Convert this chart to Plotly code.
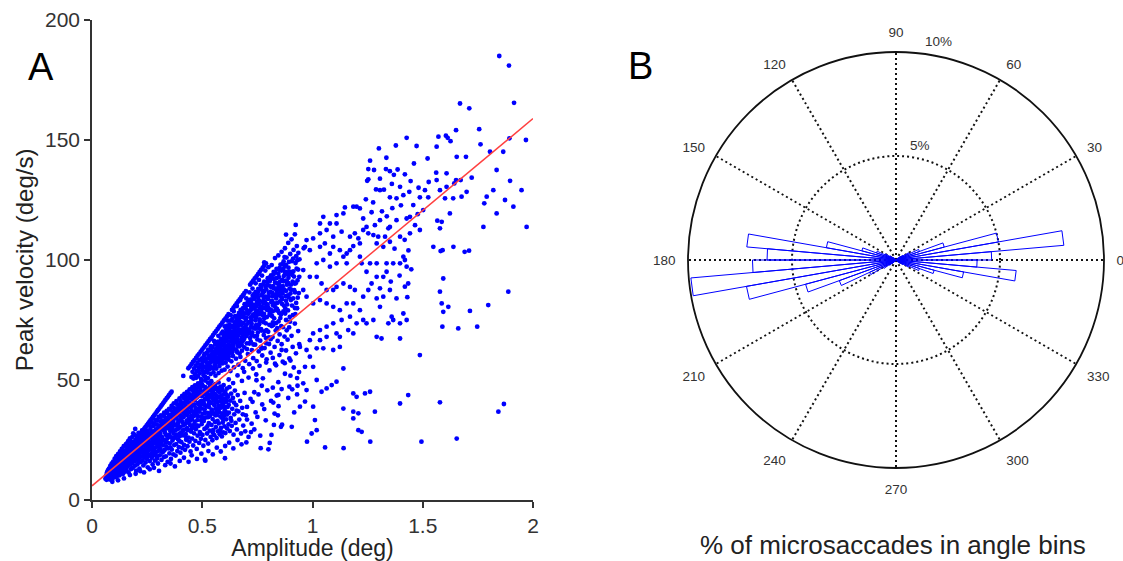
import plotly.graph_objects as go

# ---------------------------------------------------------------------------
# Panel A: microsaccade main sequence (amplitude vs. peak velocity)
# ---------------------------------------------------------------------------

# dense core of small microsaccades
LOWER_CLOUD = [
    (0.061, 8.9), (0.064, 10.2), (0.066, 8.4), (0.068, 11.5), (0.070, 9.6), (0.072, 12.3), (0.074, 8.8),
    (0.075, 10.9), (0.077, 13.1), (0.079, 9.7), (0.080, 11.8), (0.082, 8.5),
    (0.083, 14.2), (0.084, 10.4), (0.086, 12.6), (0.087, 9.2), (0.089, 15.1), (0.090, 11.3), (0.092, 13.7),
    (0.093, 8.9), (0.095, 10.8), (0.096, 16.0), (0.097, 12.2), (0.099, 14.4), (0.100, 9.6),
    (0.101, 11.9), (0.103, 17.2), (0.104, 13.3), (0.105, 10.1), (0.107, 15.5), (0.108, 12.4), (0.110, 18.3),
    (0.111, 9.4), (0.112, 14.1), (0.114, 16.7), (0.115, 11.2), (0.116, 13.8), (0.118, 19.1), (0.119, 10.6), (0.120, 15.2),
    (0.121, 12.7), (0.123, 17.6), (0.124, 14.6), (0.125, 10.3), (0.127, 20.2), (0.128, 13.1), (0.129, 16.2),
    (0.131, 11.6), (0.132, 18.4), (0.133, 15.0), (0.135, 21.3), (0.136, 12.4), (0.137, 17.0), (0.139, 14.2), (0.140, 19.6),
    (0.141, 10.9), (0.142, 16.1), (0.144, 22.4), (0.145, 13.5), (0.146, 18.8), (0.148, 15.3), (0.149, 11.8),
    (0.150, 20.7), (0.152, 17.2), (0.153, 14.0), (0.154, 23.3), (0.156, 12.6), (0.157, 19.4), (0.158, 16.5), (0.160, 21.8),
    (0.161, 13.9), (0.162, 18.0), (0.164, 24.5), (0.165, 15.6), (0.166, 11.5), (0.168, 20.9), (0.169, 17.3),
    (0.170, 22.6), (0.172, 14.8), (0.173, 19.2), (0.174, 25.4), (0.176, 16.4), (0.177, 12.9), (0.178, 21.5),
    (0.180, 18.6), (0.180, 23.9),
    (0.181, 15.2), (0.183, 26.3), (0.184, 20.1), (0.185, 13.4), (0.187, 17.8), (0.188, 24.2), (0.189, 22.0),
    (0.191, 16.1), (0.192, 19.5), (0.193, 27.1), (0.195, 14.3), (0.196, 21.3), (0.197, 25.0), (0.199, 18.2),
    (0.200, 23.1), (0.200, 12.2),
    (0.202, 16.8), (0.203, 20.4), (0.205, 26.6), (0.206, 14.9), (0.207, 22.7), (0.209, 18.9), (0.210, 24.8),
    (0.211, 28.0), (0.213, 17.4), (0.214, 21.1), (0.215, 13.1), (0.217, 25.7), (0.218, 19.6), (0.219, 23.4),
    (0.221, 15.8), (0.222, 27.2),
    (0.223, 21.9), (0.225, 18.1), (0.226, 24.3), (0.227, 29.0), (0.229, 16.5), (0.230, 20.6), (0.231, 26.1),
    (0.233, 14.4), (0.234, 22.8), (0.235, 19.3), (0.237, 27.9), (0.238, 24.9), (0.239, 17.7), (0.241, 21.4),
    (0.242, 30.1), (0.243, 15.6),
    (0.245, 23.5), (0.246, 19.8), (0.247, 26.8), (0.249, 28.9), (0.250, 17.0), (0.251, 22.2), (0.253, 13.6),
    (0.254, 25.3), (0.255, 20.7), (0.257, 31.2), (0.258, 18.4), (0.259, 24.0), (0.261, 27.5), (0.262, 16.2), (0.263, 21.8),
    (0.265, 29.6), (0.266, 23.2), (0.267, 19.1), (0.269, 26.0), (0.270, 32.3), (0.271, 17.6), (0.273, 22.5),
    (0.274, 28.4), (0.275, 14.8), (0.277, 25.1), (0.278, 20.3), (0.279, 30.8), (0.281, 18.7), (0.282, 24.6),
    (0.283, 27.3), (0.285, 16.4),
    (0.286, 21.7), (0.287, 33.4), (0.289, 29.2), (0.290, 19.9), (0.291, 23.8), (0.293, 26.7), (0.294, 31.5),
    (0.295, 17.3), (0.297, 22.4), (0.298, 28.1), (0.299, 15.2), (0.301, 25.4), (0.302, 34.6), (0.303, 20.5),
    (0.305, 30.0), (0.306, 24.2),
    (0.307, 18.6), (0.309, 27.6), (0.310, 32.7), (0.311, 21.2), (0.313, 35.3), (0.314, 23.9), (0.315, 16.7),
    (0.317, 29.4), (0.318, 26.2), (0.319, 19.8), (0.321, 33.1), (0.322, 22.8), (0.323, 30.6), (0.325, 25.0),
    (0.326, 17.9), (0.327, 36.4),
    (0.329, 28.3), (0.330, 20.9), (0.331, 31.8), (0.333, 24.5), (0.334, 34.2), (0.335, 18.2), (0.337, 27.0),
    (0.338, 22.1), (0.339, 37.1), (0.341, 29.9), (0.342, 25.7), (0.343, 15.9), (0.345, 33.6), (0.346, 21.5),
    (0.347, 30.9), (0.349, 26.4),
    (0.350, 38.0), (0.351, 19.4), (0.353, 23.6), (0.354, 35.5), (0.355, 28.8), (0.357, 32.2), (0.358, 17.1),
    (0.359, 26.1), (0.361, 39.2), (0.362, 21.0), (0.363, 30.3), (0.365, 24.8), (0.366, 36.7), (0.367, 33.4),
    (0.369, 19.0), (0.370, 27.7),
    (0.371, 40.3), (0.373, 22.9), (0.374, 31.4), (0.375, 25.9), (0.377, 37.9), (0.378, 29.0), (0.379, 18.5),
    (0.381, 34.3), (0.382, 23.3), (0.383, 41.2), (0.385, 27.2), (0.386, 31.0), (0.387, 20.4), (0.389, 36.1),
    (0.390, 25.3), (0.391, 38.6),
    (0.393, 29.7), (0.394, 22.0), (0.395, 33.0), (0.397, 42.3), (0.398, 26.6), (0.399, 35.2), (0.401, 19.7),
    (0.402, 30.5), (0.403, 39.7), (0.405, 24.1), (0.406, 28.1), (0.407, 36.9), (0.409, 43.4), (0.410, 21.6),
    (0.411, 32.4), (0.413, 26.9),
    (0.414, 40.6), (0.415, 34.5), (0.417, 23.0), (0.418, 29.3), (0.419, 44.2), (0.421, 37.6), (0.422, 20.9),
    (0.423, 31.7), (0.425, 27.4), (0.426, 41.8), (0.427, 25.1), (0.429, 35.8), (0.430, 33.1), (0.431, 45.0),
    (0.433, 22.4), (0.434, 38.9),
    (0.435, 29.1), (0.437, 42.7), (0.438, 26.0), (0.439, 34.0), (0.441, 36.5), (0.442, 24.3), (0.443, 46.1),
    (0.445, 31.2), (0.446, 40.1), (0.447, 20.2), (0.449, 28.5), (0.450, 43.6), (0.451, 37.3), (0.453, 33.8),
    (0.454, 25.6), (0.455, 47.0),
    (0.457, 30.2), (0.458, 39.4), (0.459, 22.7), (0.461, 44.8), (0.462, 35.0), (0.463, 27.8), (0.465, 41.5),
    (0.466, 32.6), (0.467, 47.8), (0.469, 24.6), (0.470, 38.3), (0.471, 29.5), (0.473, 45.9), (0.474, 36.2),
    (0.475, 21.3), (0.477, 42.9),
    (0.478, 33.3), (0.479, 26.8), (0.481, 48.6), (0.482, 39.9), (0.483, 30.8), (0.485, 44.1), (0.486, 23.8),
    (0.487, 36.8), (0.489, 28.3), (0.490, 46.7), (0.491, 41.0), (0.493, 34.7), (0.494, 25.5), (0.495, 49.2),
    (0.497, 31.6), (0.498, 38.1),
    (0.499, 43.3), (0.501, 27.1), (0.502, 35.9), (0.503, 47.4), (0.505, 22.6), (0.506, 40.7), (0.507, 32.9),
    (0.509, 45.5), (0.510, 29.6), (0.511, 37.7), (0.513, 49.8), (0.514, 25.0), (0.515, 42.0), (0.517, 34.4),
    (0.518, 46.3), (0.519, 30.1),
    (0.521, 39.0), (0.522, 27.7), (0.523, 44.7), (0.525, 36.3), (0.526, 48.9), (0.527, 23.5), (0.529, 41.6),
    (0.530, 32.0), (0.531, 38.7), (0.533, 46.9), (0.534, 28.9), (0.535, 35.1), (0.537, 43.8), (0.538, 26.3),
    (0.539, 40.4), (0.541, 49.5),
    (0.542, 31.3), (0.543, 37.0), (0.545, 45.2), (0.546, 24.9), (0.547, 33.7), (0.549, 42.4), (0.550, 29.2),
    (0.551, 47.7), (0.553, 36.0), (0.554, 39.6), (0.555, 27.0), (0.557, 44.0), (0.558, 32.5), (0.559, 48.3),
    (0.561, 38.2), (0.562, 30.4),
    (0.563, 41.9), (0.565, 25.8), (0.566, 35.4), (0.567, 46.0), (0.569, 33.0), (0.570, 43.2), (0.571, 28.6),
    (0.573, 39.3), (0.574, 49.0), (0.575, 31.9), (0.577, 36.6), (0.578, 44.9), (0.579, 27.4), (0.581, 41.1),
    (0.582, 34.8), (0.583, 47.2),
    (0.585, 30.0), (0.586, 38.5), (0.587, 43.5), (0.589, 26.5), (0.590, 36.1), (0.591, 45.8), (0.593, 32.3),
    (0.594, 40.0), (0.595, 28.2), (0.597, 47.9), (0.598, 35.0), (0.599, 42.2), (0.601, 30.7), (0.602, 37.4), (0.603, 44.6),
    (0.605, 27.9), (0.607, 40.9), (0.609, 33.6), (0.611, 46.4), (0.613, 29.8), (0.615, 38.8), (0.617, 43.0),
    (0.619, 31.5), (0.621, 36.4), (0.623, 47.0), (0.625, 28.7), (0.627, 41.4),
    (0.629, 34.2), (0.631, 44.3), (0.634, 30.9), (0.636, 38.0), (0.639, 42.5), (0.642, 27.2), (0.645, 35.7),
    (0.648, 45.6), (0.651, 32.1), (0.654, 39.5), (0.657, 29.4), (0.661, 43.7), (0.664, 36.9), (0.668, 33.5),
    (0.672, 41.3), (0.676, 27.7), (0.681, 38.4), (0.686, 31.0), (0.692, 44.6), (0.698, 35.3),
]

# the most crowded strip of the small-amplitude cloud, around the fit
LOWER_CORE = [
    (0.105, 12.9), (0.113, 14.8), (0.122, 15.9), (0.130, 14.4), (0.138, 17.9), (0.147, 16.8), (0.155, 18.9),
    (0.163, 17.5), (0.171, 20.4), (0.179, 19.6), (0.186, 21.6), (0.194, 20.7), (0.201, 22.4), (0.208, 21.0),
    (0.216, 23.8), (0.224, 22.9), (0.232, 25.0), (0.240, 23.6), (0.248, 26.2), (0.256, 24.7), (0.264, 27.4),
    (0.272, 25.9), (0.280, 28.6), (0.288, 27.0), (0.296, 29.8), (0.304, 28.2), (0.312, 30.9), (0.320, 29.3),
    (0.328, 32.4), (0.336, 30.4), (0.344, 33.7), (0.352, 31.5), (0.360, 34.6), (0.368, 32.7), (0.376, 35.8),
    (0.384, 33.9), (0.392, 37.0), (0.400, 35.1), (0.408, 38.3), (0.416, 36.2), (0.424, 39.5), (0.432, 37.4),
    (0.440, 40.6), (0.448, 38.5), (0.456, 41.8), (0.464, 39.7), (0.472, 42.6), (0.480, 40.4), (0.488, 43.5),
    (0.496, 41.3), (0.504, 44.2), (0.512, 42.0), (0.520, 45.0), (0.528, 42.9), (0.536, 45.7), (0.544, 43.2),
    (0.552, 46.3), (0.560, 44.0), (0.568, 40.6), (0.576, 42.8), (0.584, 39.1), (0.592, 41.5), (0.600, 38.9),
    (0.110, 11.0), (0.126, 12.2), (0.143, 13.8), (0.159, 14.2), (0.175, 15.7), (0.191, 17.4), (0.207, 17.0),
    (0.223, 19.9), (0.239, 19.0), (0.255, 21.7), (0.271, 20.8), (0.287, 23.5), (0.303, 22.1), (0.319, 25.2),
    (0.335, 23.9), (0.351, 27.1), (0.367, 25.8), (0.383, 29.4), (0.399, 27.8), (0.415, 31.2), (0.431, 29.9),
    (0.447, 33.1), (0.463, 31.4), (0.479, 35.0), (0.495, 33.2), (0.511, 36.2), (0.527, 34.5), (0.543, 37.6),
    (0.559, 35.3), (0.575, 38.0), (0.591, 34.1), (0.607, 36.6),
    (0.079, 12.0), (0.091, 10.0), (0.098, 13.0), (0.106, 15.0), (0.117, 12.6), (0.126, 18.9), (0.134, 13.2),
    (0.143, 17.7), (0.151, 15.9), (0.159, 19.9), (0.167, 14.5), (0.175, 21.2), (0.182, 17.0), (0.190, 22.7),
    (0.198, 19.0), (0.204, 24.1), (0.212, 16.2), (0.220, 21.8), (0.228, 25.3), (0.236, 20.0), (0.244, 27.0),
    (0.252, 18.7), (0.260, 23.4), (0.268, 28.1), (0.276, 21.0), (0.284, 25.8), (0.292, 18.3), (0.300, 27.3),
    (0.308, 23.1), (0.316, 31.6), (0.324, 20.2), (0.332, 27.9), (0.340, 24.0), (0.348, 32.0), (0.356, 21.9),
    (0.364, 29.1), (0.372, 34.7), (0.380, 26.5), (0.388, 31.9), (0.396, 24.6), (0.404, 33.6), (0.412, 28.9),
    (0.420, 38.3), (0.428, 25.9), (0.436, 32.2), (0.444, 42.3), (0.452, 29.7), (0.460, 36.6), (0.468, 43.4),
    (0.476, 31.1), (0.484, 38.0), (0.492, 27.6), (0.500, 40.1), (0.508, 34.1), (0.516, 45.0), (0.524, 30.8),
    (0.532, 42.9), (0.540, 35.9), (0.548, 28.0), (0.556, 41.3), (0.564, 37.1), (0.572, 45.4), (0.580, 29.0),
    (0.588, 41.8), (0.596, 33.4), (0.604, 45.1), (0.612, 35.6), (0.620, 39.6), (0.632, 33.0), (0.644, 40.6),
    (0.656, 37.2),
    (0.087, 11.0), (0.094, 12.4), (0.102, 14.2), (0.109, 13.6), (0.116, 15.9), (0.124, 16.6), (0.131, 17.6),
    (0.139, 15.8), (0.146, 19.9), (0.154, 18.0), (0.161, 20.6), (0.169, 19.0), (0.176, 22.5), (0.184, 18.9),
    (0.191, 23.5), (0.199, 21.5), (0.206, 25.6), (0.214, 22.6), (0.221, 25.0), (0.229, 23.0), (0.236, 26.3),
    (0.244, 24.8), (0.251, 28.3), (0.259, 26.2), (0.266, 30.6), (0.274, 26.9), (0.281, 31.9), (0.289, 28.4),
    (0.296, 33.2), (0.304, 30.9), (0.311, 34.4), (0.319, 31.4), (0.326, 35.1), (0.334, 32.9), (0.341, 36.2),
    (0.349, 34.8), (0.356, 37.6), (0.364, 35.6), (0.371, 38.4), (0.379, 36.8), (0.386, 39.9), (0.394, 38.0),
    (0.401, 41.2), (0.409, 40.1), (0.416, 42.5), (0.424, 43.5), (0.431, 41.0), (0.439, 44.4), (0.446, 43.1),
    (0.454, 45.9), (0.461, 42.4), (0.469, 46.4), (0.476, 44.9), (0.484, 47.3), (0.491, 45.6), (0.499, 48.2),
    (0.506, 43.9), (0.514, 47.0), (0.521, 43.5), (0.529, 46.1), (0.536, 48.0), (0.544, 46.7), (0.551, 44.6),
    (0.559, 47.1), (0.566, 42.7), (0.574, 46.6), (0.581, 43.0), (0.589, 46.8), (0.596, 44.0), (0.604, 41.7),
    (0.611, 43.8),
    (0.250, 20.0), (0.270, 24.0), (0.290, 25.2), (0.310, 26.8), (0.330, 29.5), (0.350, 30.0), (0.370, 31.1),
    (0.390, 32.0), (0.410, 34.6), (0.430, 35.4), (0.450, 35.1), (0.470, 37.4), (0.490, 39.4), (0.510, 39.6),
    (0.530, 40.3), (0.550, 41.7), (0.570, 37.3), (0.590, 39.6), (0.610, 41.3),
]

# fringe of the small-amplitude cloud (below the core and trailing off to the right)
LOWER_FRINGE = [
    (0.092, 7.6), (0.118, 8.2), (0.145, 9.0), (0.172, 10.4), (0.198, 10.9), (0.219, 12.0), (0.236, 11.5),
    (0.262, 12.8), (0.281, 13.4), (0.304, 12.1), (0.332, 14.5), (0.356, 15.2), (0.376, 14.0), (0.398, 16.3),
    (0.417, 17.6), (0.438, 15.9), (0.452, 18.6), (0.476, 17.1), (0.496, 19.3), (0.512, 16.8), (0.528, 20.4),
    (0.548, 19.0), (0.566, 21.8), (0.584, 20.2), (0.604, 22.5), (0.622, 23.9), (0.641, 21.5), (0.660, 25.0),
    (0.678, 23.2), (0.695, 28.6), (0.710, 26.3), (0.724, 31.8), (0.736, 29.4), (0.750, 34.6), (0.763, 26.8),
    (0.703, 38.8), (0.719, 42.1), (0.742, 36.5), (0.755, 44.0), (0.772, 39.8), (0.788, 33.2), (0.795, 45.7),
    (0.812, 41.3), (0.828, 36.0), (0.845, 43.8), (0.862, 31.4),
    (0.939, 53.3), (0.932, 47.6), (0.908, 46.1), (0.895, 47.2), (0.917, 36.5), (0.906, 30.5), (0.900, 51.8),
    (0.830, 56.8), (0.874, 57.0), (0.838, 43.5), (0.822, 40.6), (0.846, 39.1), (0.825, 31.3), (0.857, 30.5),
    (0.843, 35.3), (0.814, 27.1), (0.800, 21.1), (0.765, 21.6), (0.781, 37.9), (0.770, 47.6), (0.746, 49.9),
    (0.736, 44.9), (0.728, 40.9), (0.721, 28.3), (0.703, 33.5), (0.684, 35.7), (0.700, 24.0), (0.603, 17.4),
    (0.514, 16.4), (0.806, 23.8),
    (0.152, 19.5), (0.165, 21.0), (0.178, 22.6), (0.190, 24.0), (0.187, 27.8), (0.196, 29.6), (0.172, 25.7),
    (0.160, 23.6),
]

# saturated detections that line up along a straight ridge
STREAK_LOW = [
    (0.203, 25.6), (0.209, 26.3), (0.214, 26.9), (0.220, 27.6), (0.226, 28.3), (0.231, 29.0), (0.237, 29.7),
    (0.243, 30.4), (0.248, 31.1), (0.254, 31.8), (0.260, 32.5), (0.265, 33.2), (0.271, 33.9), (0.277, 34.6),
    (0.282, 35.3), (0.288, 36.0), (0.294, 36.8), (0.299, 37.4), (0.305, 38.1), (0.311, 38.9), (0.316, 39.5),
    (0.322, 40.3), (0.328, 41.0), (0.333, 41.7), (0.339, 42.4), (0.345, 43.1), (0.350, 43.8), (0.356, 44.5),
    (0.361, 45.1),
]
STREAK_HIGH = [
    (0.414, 51.7),
    (0.437, 54.9), (0.444, 55.7), (0.451, 56.6), (0.458, 57.5), (0.465, 58.3), (0.472, 59.2), (0.479, 60.1),
    (0.486, 60.9), (0.493, 61.8), (0.500, 62.6), (0.507, 63.5), (0.514, 64.4), (0.521, 65.2), (0.528, 66.1),
    (0.535, 67.0), (0.542, 67.8), (0.549, 68.7), (0.556, 69.6), (0.563, 70.4), (0.570, 71.3), (0.577, 72.2),
    (0.584, 73.0), (0.591, 73.9), (0.598, 74.8), (0.605, 75.6), (0.612, 76.5), (0.619, 77.4),
    (0.635, 79.2), (0.642, 80.1), (0.649, 81.0), (0.656, 81.9), (0.663, 82.7), (0.670, 83.6), (0.677, 84.5),
    (0.684, 85.3), (0.691, 86.2), (0.698, 87.0),
    (0.717, 89.7), (0.724, 90.6), (0.731, 91.4), (0.738, 92.3), (0.746, 93.2), (0.753, 94.1), (0.760, 95.0),
    (0.767, 95.9), (0.774, 96.8), (0.781, 97.6), (0.789, 98.6),
]

# second cluster of larger microsaccades
UPPER_CLOUD = [
    (0.451, 51.2), (0.456, 53.4), (0.460, 50.6), (0.463, 54.8), (0.467, 52.3), (0.470, 55.9), (0.472, 50.9),
    (0.475, 53.7), (0.478, 57.1), (0.481, 51.5), (0.484, 55.2), (0.487, 58.3), (0.489, 52.8), (0.492, 56.4),
    (0.495, 50.4), (0.498, 59.0),
    (0.501, 54.1), (0.503, 57.6), (0.506, 52.0), (0.508, 60.2), (0.511, 55.5), (0.513, 51.3), (0.516, 58.7),
    (0.518, 53.6), (0.521, 61.4), (0.523, 56.8), (0.526, 50.8), (0.528, 59.5),
    (0.531, 54.4), (0.533, 62.3), (0.536, 57.3), (0.538, 52.5), (0.541, 60.6), (0.543, 55.0), (0.546, 63.5),
    (0.548, 58.1), (0.551, 53.2), (0.553, 61.8), (0.556, 56.2), (0.558, 64.7), (0.560, 51.8),
    (0.562, 59.4), (0.564, 54.7), (0.567, 62.9), (0.569, 57.5), (0.571, 66.0), (0.574, 52.9), (0.576, 60.8),
    (0.578, 55.8), (0.581, 64.1), (0.583, 58.6), (0.585, 67.2), (0.588, 53.9), (0.590, 61.7),
    (0.592, 56.9), (0.594, 65.3), (0.597, 59.9), (0.599, 68.3), (0.601, 54.3), (0.603, 62.6), (0.606, 57.2),
    (0.608, 66.8), (0.610, 60.4), (0.612, 69.7), (0.615, 55.6), (0.617, 63.9), (0.619, 58.5),
    (0.621, 71.0), (0.623, 61.2), (0.626, 66.1), (0.628, 53.7), (0.630, 69.0), (0.632, 57.8), (0.635, 64.5),
    (0.637, 72.4), (0.639, 60.0), (0.641, 67.4), (0.644, 55.3), (0.646, 74.0), (0.648, 62.8),
    (0.650, 70.3), (0.653, 58.9), (0.655, 65.8), (0.657, 75.6), (0.659, 61.5), (0.662, 68.5), (0.664, 56.4),
    (0.666, 72.9), (0.668, 64.0), (0.671, 77.1), (0.673, 59.6), (0.675, 70.9), (0.677, 66.7), (0.680, 62.2),
    (0.682, 78.5), (0.684, 54.9), (0.686, 73.8), (0.689, 68.9), (0.691, 63.6), (0.693, 80.2), (0.695, 58.0),
    (0.698, 75.1), (0.700, 71.4), (0.702, 65.3), (0.704, 82.0), (0.707, 60.8), (0.709, 77.6),
    (0.711, 69.3), (0.713, 56.6), (0.716, 74.2), (0.718, 83.5), (0.720, 66.0), (0.722, 79.4), (0.725, 62.4),
    (0.727, 71.8), (0.729, 85.1), (0.731, 59.1), (0.734, 76.5), (0.736, 68.2), (0.738, 81.3),
    (0.740, 64.7), (0.743, 86.7), (0.745, 73.0), (0.747, 57.9), (0.749, 78.8), (0.752, 69.8), (0.754, 88.0),
    (0.756, 61.9), (0.758, 83.0), (0.761, 75.3), (0.763, 66.4), (0.765, 89.5), (0.767, 71.2),
    (0.770, 80.6), (0.772, 60.2), (0.774, 86.1), (0.776, 76.9), (0.779, 68.7), (0.781, 91.0), (0.783, 63.3),
    (0.785, 82.4), (0.788, 73.6), (0.790, 87.8), (0.792, 58.6), (0.794, 79.2), (0.797, 92.4),
    (0.799, 70.1), (0.801, 84.7), (0.803, 65.0), (0.806, 89.3), (0.808, 77.8), (0.810, 61.4), (0.812, 93.6),
    (0.815, 72.5), (0.817, 86.4), (0.819, 67.9), (0.821, 81.1), (0.824, 95.0), (0.826, 75.7),
    (0.828, 63.8), (0.830, 90.6), (0.833, 70.6), (0.835, 84.0), (0.837, 96.3), (0.839, 79.6), (0.842, 66.3),
    (0.844, 88.4), (0.846, 74.4), (0.848, 92.9), (0.851, 69.0), (0.853, 82.7), (0.855, 98.1),
    (0.857, 77.3), (0.860, 64.9), (0.862, 91.7), (0.864, 86.0), (0.866, 72.0), (0.869, 99.4), (0.871, 80.9),
    (0.873, 68.1), (0.875, 94.6), (0.878, 84.9), (0.880, 75.0), (0.882, 101.0), (0.884, 89.7),
    (0.887, 66.8), (0.889, 79.0), (0.891, 96.8), (0.894, 71.9), (0.896, 88.1), (0.899, 102.5), (0.902, 83.3),
    (0.905, 68.4), (0.908, 93.8), (0.911, 77.0), (0.914, 104.2), (0.917, 87.4), (0.920, 73.5), (0.923, 98.7),
    (0.926, 82.1), (0.929, 105.8), (0.932, 91.5), (0.935, 70.4), (0.938, 86.2), (0.941, 100.3),
    (0.552, 58.8), (0.566, 61.1), (0.579, 63.0), (0.588, 58.2), (0.596, 64.4), (0.604, 60.7), (0.611, 66.2),
    (0.618, 62.5), (0.625, 68.0), (0.633, 63.4), (0.640, 70.1), (0.647, 66.0), (0.654, 72.6), (0.661, 64.2),
    (0.669, 74.4), (0.676, 69.6), (0.683, 76.3), (0.690, 67.1), (0.697, 72.7), (0.705, 78.9), (0.712, 70.6),
    (0.719, 76.0), (0.726, 68.8), (0.733, 80.5), (0.741, 74.9), (0.748, 82.6), (0.755, 71.7), (0.762, 79.7),
    (0.769, 85.3), (0.777, 74.1), (0.784, 80.0), (0.791, 70.8), (0.798, 83.8), (0.805, 77.1), (0.813, 88.6),
    (0.820, 74.0), (0.827, 85.6), (0.834, 79.1), (0.841, 90.2), (0.849, 77.9), (0.856, 86.9), (0.863, 81.6),
    (0.870, 93.3), (0.877, 79.8), (0.885, 90.9), (0.892, 84.4),
    (0.575, 65.6), (0.587, 69.4), (0.602, 72.3), (0.616, 74.7), (0.629, 77.0), (0.643, 78.6), (0.657, 80.8),
    (0.672, 83.3), (0.686, 85.2), (0.700, 84.0), (0.714, 86.5), (0.728, 88.1), (0.742, 90.3), (0.757, 91.7),
    (0.771, 93.5), (0.786, 95.6), (0.800, 97.0), (0.815, 97.9), (0.830, 100.8), (0.845, 101.9), (0.860, 103.4),
    (0.875, 104.9), (0.890, 107.1), (0.905, 108.6), (0.920, 110.7), (0.880, 110.6), (0.924, 114.6),
    (0.781, 99.0), (0.873, 101.2),
    (0.620, 50.2), (0.640, 48.7), (0.660, 51.9), (0.680, 49.6), (0.690, 53.4), (0.710, 51.0), (0.730, 54.8),
    (0.745, 52.3), (0.760, 55.9), (0.775, 50.7), (0.790, 57.3), (0.805, 54.0), (0.820, 59.2), (0.835, 56.1),
    (0.850, 60.4), (0.865, 57.6), (0.880, 62.3), (0.895, 59.0), (0.910, 63.8), (0.925, 61.1), (0.940, 64.9),
    (0.770, 63.1), (0.790, 65.3), (0.810, 67.0), (0.860, 62.5), (0.900, 58.1), (0.915, 55.2), (0.930, 50.8),
    (0.875, 52.6), (0.845, 49.1), (0.820, 46.8), (0.860, 46.2), (0.890, 42.5), (0.930, 44.0),
]

# the most crowded part of the larger-amplitude cluster
UPPER_CORE = [
    (0.500, 56.5), (0.515, 57.9), (0.530, 60.1), (0.545, 59.6), (0.560, 62.0), (0.572, 63.7), (0.585, 62.2),
    (0.598, 66.5), (0.609, 64.1), (0.622, 68.9), (0.634, 66.9), (0.645, 71.5), (0.656, 69.4), (0.667, 73.6),
    (0.679, 71.0), (0.690, 76.0), (0.701, 73.2), (0.712, 78.3), (0.723, 75.0), (0.735, 79.8), (0.746, 76.7),
    (0.757, 81.6), (0.768, 78.4), (0.780, 84.1), (0.791, 80.9), (0.802, 86.3), (0.813, 82.4), (0.825, 88.2),
    (0.836, 85.1), (0.847, 90.0), (0.858, 88.0), (0.869, 91.1), (0.880, 87.1), (0.891, 92.6), (0.902, 89.7),
    (0.913, 95.2), (0.924, 90.3), (0.935, 96.0),
    (0.560, 55.9), (0.580, 59.7), (0.600, 61.3), (0.620, 64.7), (0.640, 63.9), (0.660, 67.1), (0.680, 67.9),
    (0.700, 68.3), (0.720, 72.0), (0.740, 71.4), (0.760, 74.6), (0.780, 77.5), (0.800, 79.0), (0.820, 78.6),
    (0.840, 82.1), (0.860, 84.3), (0.880, 83.0), (0.900, 86.0), (0.920, 80.0), (0.940, 93.0),
    (0.507, 58.4), (0.519, 55.0), (0.527, 62.6), (0.534, 58.9), (0.539, 64.1), (0.547, 61.2), (0.553, 66.3),
    (0.561, 57.4), (0.568, 64.9), (0.573, 68.4), (0.582, 61.9), (0.589, 66.7), (0.593, 70.1), (0.600, 63.2),
    (0.607, 69.4), (0.613, 72.6), (0.620, 59.8), (0.627, 71.9), (0.631, 74.8), (0.638, 65.7), (0.645, 68.3),
    (0.649, 76.6), (0.655, 62.4), (0.663, 71.2), (0.667, 78.0), (0.674, 74.1), (0.679, 64.6), (0.685, 79.9),
    (0.692, 70.2), (0.697, 77.8), (0.703, 62.9), (0.706, 81.3), (0.711, 73.9), (0.717, 67.5), (0.721, 80.7),
    (0.728, 76.9), (0.732, 64.8), (0.737, 83.9), (0.742, 78.1), (0.748, 68.4), (0.751, 85.6), (0.758, 73.2),
    (0.763, 80.1), (0.766, 63.7), (0.773, 87.2), (0.778, 82.0), (0.782, 70.3), (0.787, 88.9), (0.793, 76.2),
    (0.796, 84.6), (0.803, 67.8), (0.807, 91.3), (0.811, 79.3), (0.816, 83.0), (0.822, 72.9), (0.825, 92.1),
    (0.831, 80.4), (0.836, 87.6), (0.840, 71.6), (0.845, 94.3), (0.850, 85.2), (0.854, 75.8), (0.859, 95.6),
    (0.865, 89.1), (0.868, 78.6), (0.874, 97.3), (0.879, 91.4), (0.883, 70.7), (0.888, 85.3), (0.893, 99.2),
    (0.897, 76.3), (0.903, 94.9), (0.907, 81.0), (0.912, 100.6), (0.918, 90.2), (0.922, 77.4), (0.928, 96.4),
    (0.933, 84.3), (0.936, 103.0),
    (0.470, 52.1), (0.483, 53.9), (0.496, 55.2), (0.509, 53.2), (0.522, 57.2), (0.537, 55.6), (0.549, 54.8),
    (0.565, 58.0), (0.577, 57.1), (0.592, 60.2), (0.606, 58.9), (0.624, 63.5), (0.636, 61.6), (0.652, 66.8),
    (0.670, 65.4), (0.688, 71.6), (0.706, 69.9), (0.724, 73.4), (0.744, 76.0), (0.762, 77.4), (0.776, 80.0),
    (0.796, 81.5), (0.818, 84.9), (0.838, 87.3), (0.852, 88.9), (0.872, 87.6), (0.889, 93.9), (0.910, 91.0),
    (0.931, 99.9),
    (0.512, 60.9), (0.524, 53.1), (0.532, 56.0), (0.540, 62.4), (0.544, 57.7), (0.555, 60.3), (0.559, 65.6),
    (0.563, 63.0), (0.570, 59.2), (0.577, 61.4), (0.584, 65.0), (0.591, 58.4), (0.595, 62.8), (0.605, 65.9),
    (0.609, 71.0), (0.614, 61.6), (0.619, 67.7), (0.624, 73.2), (0.629, 62.4), (0.633, 68.6), (0.637, 75.5),
    (0.642, 64.8), (0.647, 69.9), (0.652, 73.5), (0.656, 66.2), (0.661, 76.8), (0.665, 70.4), (0.669, 61.0),
    (0.674, 79.2), (0.678, 73.0), (0.683, 66.1), (0.687, 77.4), (0.692, 81.6), (0.696, 69.3), (0.700, 76.0),
    (0.705, 71.0), (0.709, 83.3), (0.714, 65.2), (0.718, 78.9), (0.723, 82.0), (0.727, 69.8), (0.732, 77.3),
    (0.736, 86.0), (0.741, 72.2), (0.745, 80.6), (0.750, 66.9), (0.754, 84.2), (0.759, 77.8), (0.763, 88.0),
    (0.768, 70.6), (0.772, 82.8), (0.777, 89.9), (0.781, 75.6), (0.786, 84.7), (0.790, 67.4), (0.795, 89.6),
    (0.799, 80.3), (0.804, 73.0), (0.808, 86.7), (0.813, 92.5), (0.817, 76.6), (0.822, 89.1), (0.826, 81.9),
    (0.831, 94.8), (0.835, 73.7), (0.840, 86.1), (0.844, 78.8), (0.849, 95.9), (0.853, 91.0), (0.858, 72.4),
    (0.862, 83.6), (0.867, 96.2), (0.871, 87.5), (0.876, 77.7), (0.880, 98.0), (0.885, 81.5), (0.889, 90.5),
    (0.894, 95.1), (0.898, 74.3), (0.903, 87.6), (0.907, 99.5), (0.912, 84.0), (0.916, 93.1), (0.921, 86.5),
    (0.926, 101.6), (0.930, 79.9),
    (0.525, 55.8), (0.543, 59.0), (0.557, 61.5), (0.571, 63.3), (0.586, 64.7), (0.600, 67.0), (0.614, 68.4),
    (0.628, 70.3), (0.642, 72.4), (0.655, 74.6), (0.669, 75.9), (0.683, 78.0), (0.697, 79.8), (0.711, 81.7),
    (0.725, 83.5), (0.739, 85.0), (0.753, 86.7), (0.767, 88.4), (0.781, 86.9), (0.795, 90.9), (0.809, 92.9),
    (0.823, 93.9), (0.837, 92.4), (0.851, 96.7), (0.865, 98.4), (0.879, 95.0),
]

# sparse large-amplitude events
WIDE_SPREAD = [
    (1.427, 150.9), (1.472, 147.5), (1.301, 146.5), (1.378, 147.7), (1.563, 147.2), (1.522, 142.3),
    (1.261, 141.4), (1.253, 137.9), (1.279, 137.5), (1.333, 137.9), (1.351, 137.0), (1.386, 137.7),
    (1.369, 135.5), (1.419, 135.7), (1.397, 130.5), (1.445, 132.9), (1.481, 130.1), (1.527, 132.5),
    (1.561, 136.4), (1.563, 133.3), (1.608, 136.1), (1.510, 129.1), (1.487, 126.1), (1.525, 126.1),
    (1.457, 122.9), (1.439, 128.4), (1.412, 127.0), (1.381, 125.7), (1.351, 126.1), (1.324, 129.3),
    (1.306, 129.1), (1.288, 129.4), (1.253, 133.6), (1.248, 133.0), (1.306, 133.9), (1.638, 125.7),
    (1.601, 125.7), (1.623, 119.4), (1.676, 126.4), (1.502, 120.8), (1.477, 119.1), (1.442, 118.0),
    (1.427, 117.3), (1.465, 114.5), (1.487, 112.5), (1.586, 115.9), (1.566, 116.4), (1.578, 113.2),
    (1.548, 105.5), (1.581, 103.7), (1.442, 111.1), (1.381, 116.6), (1.351, 113.8), (1.397, 109.7),
    (1.344, 113.2), (1.306, 116.6), (1.283, 114.5), (1.245, 113.8), (1.230, 117.3), (1.200, 122.2),
    (1.215, 121.5), (1.185, 122.2), (1.147, 121.9), (1.140, 119.4), (1.109, 118.7), (1.109, 115.2),
    (1.079, 115.2), (1.064, 112.5), (1.049, 118.0), (1.034, 115.2), (1.034, 111.1), (1.094, 109.7),
    (1.132, 111.8), (1.170, 109.7), (1.192, 111.1), (1.208, 109.0), (1.230, 112.5), (1.253, 111.1),
    (1.291, 106.9), (1.321, 105.5), (1.351, 107.6), (1.329, 109.7), (1.298, 109.7), (1.276, 110.4),
    (1.215, 106.9), (1.185, 105.8), (1.170, 104.1), (1.155, 102.7), (1.124, 104.1), (1.094, 105.5),
    (1.079, 102.7), (1.056, 106.9), (1.034, 105.5), (1.003, 109.0), (0.973, 108.3), (0.966, 105.5),
    (0.988, 104.1), (1.019, 98.6), (1.049, 100.0), (1.079, 97.2), (1.109, 98.6), (1.140, 101.4),
    (1.155, 98.6), (1.215, 101.4), (1.223, 98.6), (1.245, 95.1), (1.261, 98.6), (1.291, 98.6),
    (1.336, 98.6), (1.366, 98.6), (1.397, 98.6), (1.419, 100.0), (1.427, 97.2), (1.412, 101.4),
    (1.336, 95.1), (1.321, 93.0), (1.291, 93.0), (1.268, 90.2), (1.253, 87.5), (1.230, 84.7),
    (1.192, 87.5), (1.170, 88.8), (1.140, 90.2), (1.109, 88.8), (1.094, 87.5), (1.064, 87.5),
    (1.041, 90.2), (1.019, 93.0), (0.988, 93.0), (0.958, 95.8), (0.958, 87.5), (0.973, 84.7),
    (1.003, 81.9), (1.034, 83.3), (1.064, 81.9), (1.094, 80.5), (1.124, 79.1), (1.155, 81.9),
    (1.185, 81.9), (1.215, 79.1), (1.170, 76.4), (1.132, 75.0), (1.094, 73.6), (1.064, 72.2),
    (1.034, 70.8), (1.003, 69.4), (0.988, 66.6), (1.034, 66.6), (1.064, 68.0), (1.109, 69.4),
    (1.124, 68.0), (1.162, 70.8), (1.200, 73.6), (1.230, 75.0), (1.276, 75.0), (1.306, 80.5),
    (1.321, 84.7), (1.351, 87.5), (1.381, 84.0), (1.412, 77.7), (1.427, 75.0), (1.397, 73.6),
    (1.366, 75.0), (1.344, 73.6), (1.291, 68.0), (1.313, 67.3), (1.397, 67.3), (1.306, 88.2),
    (1.419, 88.9), (1.434, 90.2), (1.291, 84.0), (1.359, 76.4), (1.245, 73.6), (1.185, 69.4),
    (1.124, 63.8), (1.094, 62.5), (1.049, 63.2), (1.019, 63.2), (0.973, 62.5), (0.943, 63.8),
    (0.988, 59.7), (0.966, 55.5), (1.003, 55.5), (0.958, 48.6), (1.019, 50.0), (0.973, 45.8),
    (0.943, 38.9), (0.966, 41.0), (1.003, 38.9), (1.011, 33.3), (1.019, 29.1), (0.996, 27.7),
    (1.041, 45.1), (1.064, 46.5), (1.087, 47.9), (1.109, 49.3), (1.140, 54.8), (1.185, 44.4),
    (1.200, 43.0), (1.238, 44.4), (1.261, 45.1), (1.434, 43.7), (1.397, 40.2), (1.185, 36.8),
    (1.208, 36.1), (1.140, 38.1), (1.185, 34.0), (1.208, 29.1), (1.223, 28.4), (1.283, 36.8),
    (1.578, 40.7), (1.487, 60.4), (1.593, 78.4), (1.616, 80.5), (1.589, 72.2), (1.661, 71.5),
    (1.747, 72.2), (1.714, 78.8), (1.797, 81.2), (1.888, 86.8), (1.868, 40.0), (1.843, 36.8),
    (1.654, 25.6), (1.593, 92.3), (1.578, 86.8), (1.586, 81.9),
    (1.669, 165.2), (1.711, 163.2), (1.914, 165.5), (1.571, 151.4), (1.605, 151.8), (1.613, 150.9),
    (1.626, 149.5), (1.651, 154.1), (1.756, 154.5), (1.762, 148.2), (1.893, 150.7), (1.968, 150.0),
    (1.696, 143.0), (1.654, 143.0), (1.722, 134.3), (1.672, 133.3), (1.651, 133.3), (1.643, 131.9),
    (1.608, 130.5), (1.578, 129.1), (1.805, 145.1), (1.865, 145.1), (1.835, 137.5), (1.896, 133.0),
    (1.948, 129.1), (1.911, 122.2), (1.873, 125.0), (1.820, 129.1), (1.790, 126.4), (1.779, 123.6),
    (1.835, 119.4), (1.775, 113.8), (1.971, 113.8), (1.699, 128.4), (1.639, 105.5), (1.690, 103.4),
    (1.710, 103.9), (1.590, 104.1),
    (1.847, 185.0), (1.891, 181.0), (0.975, 24.3), (1.057, 21.9), (1.141, 21.6), (1.262, 24.3), (1.494, 24.3),
    (1.315, 120.3), (1.337, 118.2), (1.362, 121.6), (1.401, 122.8), (1.418, 108.4), (1.435, 104.0),
    (1.372, 104.7), (1.395, 93.5), (1.355, 91.0), (1.430, 84.5), (1.448, 96.1), (1.268, 119.9),
    (1.242, 125.3), (1.275, 124.0), (1.360, 131.7), (1.460, 140.2), (1.335, 142.6), (0.960, 104.9),
]

# linear main-sequence fit
FIT_AMP = [0.0, 2.0]
FIT_VEL = [5.9, 158.9]

X_TICKS = [0, 0.5, 1, 1.5, 2]
X_TICK_TEXT = ["0", "0.5", "1", "1.5", "2"]
Y_TICKS = [0, 50, 100, 150, 200]

# ---------------------------------------------------------------------------
# Panel B: rose histogram of microsaccade directions (5 degree bins)
# ---------------------------------------------------------------------------
BIN_START_DEG = list(range(0, 360, 5))
BIN_PERCENT = [
    4.6, 8.1, 5.0, 2.4, 1.2, 0.7, 0.4, 0.25, 0.15, 0.1, 0.05, 0.05,      # 0-55
    0.03, 0.03, 0.02, 0.02, 0.02, 0.02, 0.02, 0.02, 0.02, 0.02, 0.02, 0.03,  # 60-115
    0.03, 0.05, 0.1, 0.15, 0.2, 0.35, 0.6, 1.0, 1.7, 3.4, 7.2, 6.2,      # 120-175
    6.9, 9.9, 7.3, 4.5, 2.9, 1.4, 0.7, 0.4, 0.25, 0.15, 0.1, 0.05,       # 180-235
    0.03, 0.03, 0.02, 0.02, 0.02, 0.02, 0.02, 0.02, 0.02, 0.02, 0.03, 0.03,  # 240-295
    0.05, 0.05, 0.1, 0.15, 0.25, 0.4, 0.7, 1.2, 1.9, 3.3, 5.8, 3.9,      # 300-355
]
BIN_WIDTH_DEG = 5
ANGLE_TICKS = list(range(0, 360, 30))
RADIAL_RINGS = [5, 10]
RADIAL_LABELS = ["5%", "10%"]

FONT = "Liberation Sans, Arial, Helvetica, sans-serif"
W, H = 1123, 561


def px(xp):
    return xp / W


def py(yp):
    return 1 - yp / H


points = (LOWER_CLOUD + LOWER_CORE + LOWER_FRINGE + STREAK_LOW + STREAK_HIGH
          + UPPER_CLOUD + UPPER_CORE + WIDE_SPREAD)
amp = [p[0] for p in points]
vel = [p[1] for p in points]

fig = go.Figure()

fig.add_trace(go.Scatter(
    x=amp, y=vel, mode="markers",
    marker=dict(color="#0000ff", size=4.8, line=dict(width=0)),
    xaxis="x", yaxis="y", showlegend=False, hoverinfo="skip",
))
fig.add_trace(go.Scatter(
    x=FIT_AMP, y=FIT_VEL, mode="lines",
    line=dict(color="#ff4040", width=1.5),
    xaxis="x", yaxis="y", showlegend=False, hoverinfo="skip",
))

# rose outline: centre -> bin start -> bin end -> centre, for every bin
rose_r, rose_theta = [], []
for start, pct in zip(BIN_START_DEG, BIN_PERCENT):
    rose_r += [0, pct, pct]
    rose_theta += [start, start, start + BIN_WIDTH_DEG]
rose_r.append(0)
rose_theta.append(360)

fig.add_trace(go.Scatterpolar(
    r=rose_r, theta=rose_theta, mode="lines",
    line=dict(color="#0000ff", width=1),
    subplot="polar", showlegend=False, hoverinfo="skip",
))

axis_common = dict(
    showline=True, linecolor="#333", linewidth=1.5, mirror=False,
    ticks="outside", ticklen=6, tickwidth=1.5, tickcolor="#333",
    showgrid=False, zeroline=False, automargin=False,
    tickfont=dict(family=FONT, size=21, color="#333"),
)


def label(text, x, y, size, color="#333"):
    return dict(text=text, x=px(x), y=py(y), xref="paper", yref="paper", showarrow=False,
                xanchor="center", yanchor="middle", font=dict(family=FONT, size=size, color=color))


fig.update_layout(
    width=W, height=H,
    margin=dict(l=0, r=0, t=0, b=0, autoexpand=False),
    paper_bgcolor="white", plot_bgcolor="white",
    xaxis=dict(
        domain=[px(92), px(533)], range=[0, 2], anchor="y",
        tickvals=X_TICKS, ticktext=X_TICK_TEXT,
        title=dict(text="Amplitude (deg)", font=dict(family=FONT, size=23, color="#222"), standoff=7),
        **axis_common,
    ),
    yaxis=dict(
        domain=[py(500), py(20)], range=[0, 200], anchor="x",
        tickvals=Y_TICKS,
        title=dict(text="Peak velocity (deg/s)", font=dict(family=FONT, size=24, color="#222"), standoff=5),
        **axis_common,
    ),
    polar=dict(
        domain=dict(x=[px(688), px(1104)], y=[py(468), py(52)]),
        bgcolor="white",
        radialaxis=dict(
            range=[0, 10], tickvals=RADIAL_RINGS[:1], showticklabels=False, ticks="",
            showline=False, gridcolor="#111", griddash="2px,3px", gridwidth=1.6,
        ),
        angularaxis=dict(
            rotation=0, direction="counterclockwise",
            tickmode="array", tickvals=ANGLE_TICKS, ticktext=[str(a) for a in ANGLE_TICKS],
            ticks="outside", ticklen=9, tickcolor="rgba(0,0,0,0)",
            showline=True, linecolor="#111", linewidth=1.8,
            gridcolor="#111", griddash="2px,3px", gridwidth=1.6,
            tickfont=dict(family=FONT, size=13.5, color="#333"),
        ),
    ),
    annotations=[
        label("A", 41, 67, 38, "black"),
        label("B", 640, 66, 38, "black"),
        label(RADIAL_LABELS[1], 938, 41, 13.5),
        label(RADIAL_LABELS[0], 920, 145, 13.5),
        label("% of microsaccades in angle bins", 893, 545, 26, "#222"),
    ],
)

fig.write_html("out.html")
